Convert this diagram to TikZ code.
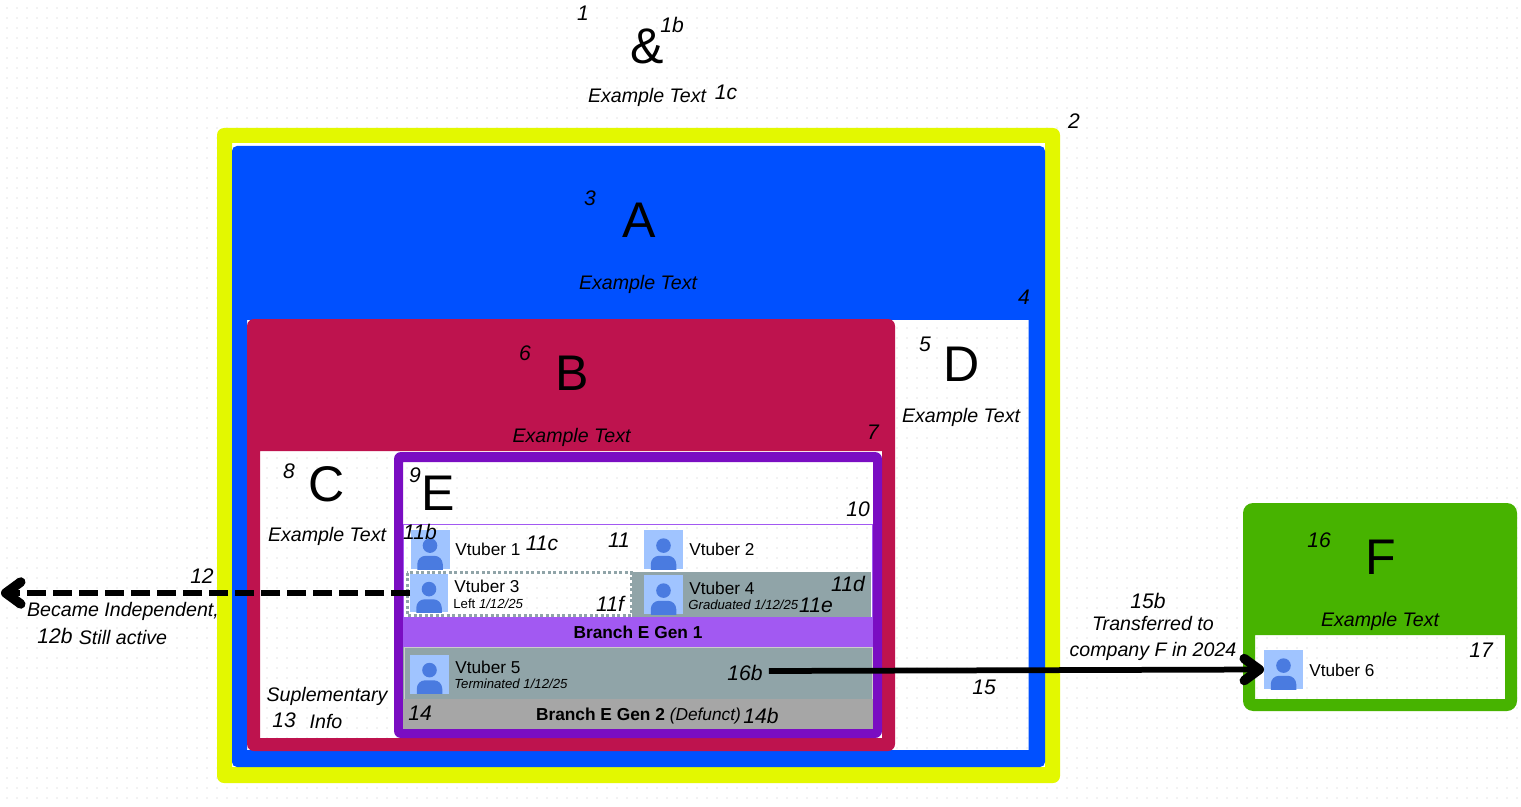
\documentclass[tikz,border=0pt]{standalone}
\usepackage{xcolor}
\usepackage{fontspec}
\setmainfont{Liberation Sans}
\usepackage{tikz}
\usetikzlibrary{arrows.meta}
\definecolor{frameyellow}{HTML}{E3F800}
\definecolor{frameblue}{HTML}{0050FF}
\definecolor{framecrimson}{HTML}{BE134E}
\definecolor{framepurple}{HTML}{7A0DC2}
\definecolor{bandpurple}{HTML}{A259F2}
\definecolor{framegreen}{HTML}{47B300}
\definecolor{rowgrey}{HTML}{90A4A8}
\definecolor{defunctgrey}{HTML}{A6A6A6}
\definecolor{avatarback}{HTML}{A0C4FF}
\definecolor{avatarfront}{HTML}{4A7BE0}
\tikzset{
  numlabel/.style={font=\fontsize{12}{14}\selectfont\itshape},
  bigletter/.style={font=\fontsize{28.5}{32}\selectfont},
  caption/.style={font=\fontsize{11.15}{13}\selectfont\itshape},
  vname/.style={anchor=west,inner sep=0pt,font=\fontsize{9.8}{12}\selectfont},
  vnote/.style={anchor=west,inner sep=0pt,font=\fontsize{7.5}{9}\selectfont},
  branchname/.style={font=\fontsize{9.85}{12}\selectfont},
  avatar/.style={rectangle,fill=avatarback,inner sep=0pt,outer sep=0pt,minimum size=0.78cm,
    path picture={
      \fill[avatarfront] (path picture bounding box.center) ++(0,0.078) circle (0.146);
      \fill[avatarfront,rounded corners=0.17cm] (path picture bounding box.center) ++(-0.255,-0.6)
        -- ++(0,0.475) -- ++(0.51,0) -- ++(0,-0.475) -- cycle;
    }},
  bigarrow/.style={line width=0.115cm,-{Straight Barb[length=0.3cm,width=0.44cm,round,line width=0.19cm]}}
}

\begin{document}
\begin{tikzpicture}[font=\small]
  \useasboundingbox (0,0) rectangle (30.42,-16.14);
  % dotted canvas
  \foreach \y in {0,...,80} {
    \draw[black!5,line width=0.03cm,dash pattern=on 0.04cm off 0.16cm] (-0.08,0.04-0.2*\y) -- (30.5,0.04-0.2*\y);
  }
  % nested frames
  \fill[frameyellow,even odd rule,rounded corners=0.14cm] (4.34,-2.56) rectangle (21.2,-15.66)
    [sharp corners] (4.64,-2.86) rectangle (20.9,-15.34);
  \fill[frameblue,even odd rule,rounded corners=0.1cm] (4.64,-2.92) rectangle (20.9,-15.34)
    [sharp corners] (4.94,-6.4) rectangle (20.57,-15);
  \fill[framecrimson,even odd rule,rounded corners=0.14cm] (4.94,-6.38) rectangle (17.9,-15.02)
    [sharp corners] (5.2,-9.02) rectangle (17.64,-14.76);
  \fill[framepurple,even odd rule,rounded corners=0.14cm] (7.88,-9.04) rectangle (17.64,-14.76)
    [sharp corners] (8.06,-9.24) rectangle (17.46,-14.58);
  \fill[framegreen,even odd rule,rounded corners=0.2cm] (24.86,-10.06) rectangle (30.34,-14.22)
    [sharp corners] (25.1,-12.7) rectangle (30.1,-13.98);
  % branch E rows
  \draw[bandpurple,line width=0.02cm] (8.07,-10.48) rectangle (17.45,-12.34);
  \fill[rowgrey] (12.64,-11.44) rectangle (17.42,-12.34);
  \draw[rowgrey,line width=0.06cm,dash pattern=on 0.06cm off 0.05cm] (8.14,-11.45) rectangle (12.62,-12.31);
  \fill[bandpurple] (8.06,-12.34) rectangle (17.46,-12.94);
  \fill[rowgrey] (8.06,-12.94) rectangle (17.46,-13.98);
  \draw[black!20,line width=0.02cm] (8.08,-12.95) rectangle (17.44,-13.98);
  \fill[defunctgrey] (8.06,-13.98) rectangle (17.46,-14.58);
  % vtubers
  \node[avatar] (av1) at (8.6,-10.99) {};
  \node[avatar] (av2) at (13.27,-10.99) {};
  \node[avatar,minimum size=0.76cm] (av3) at (8.58,-11.86) {};
  \node[avatar] (av4) at (13.27,-11.89) {};
  \node[avatar] (av5) at (8.59,-13.48) {};
  \node[avatar] (av6) at (25.67,-13.39) {};
  \node[vname] (name1) at (9.1,-10.98) {Vtuber 1};
  \node[vname] (name2) at (13.78,-10.98) {Vtuber 2};
  \node[vname] (name3) at (9.08,-11.72) {Vtuber 3};
  \node[vnote] (note3) at (9.06,-12.08) {Left \textit{1/12/25}};
  \node[vname] (name4) at (13.78,-11.76) {Vtuber 4};
  \node[vnote] (note4) at (13.76,-12.1) {\textit{Graduated 1/12/25}};
  \node[vname] (name5) at (9.1,-13.34) {Vtuber 5};
  \node[vnote] (note5) at (9.08,-13.68) {\textit{Terminated 1/12/25}};
  \node[vname] (name6) at (26.18,-13.4) {Vtuber 6};
  \node[branchname] (gen1) at (12.76,-12.64) {\textbf{Branch E Gen 1}};
  \node[branchname] (gen2) at (12.77,-14.32) {\textbf{Branch E Gen 2} \textit{(Defunct)}};
  % big letters and captions
  \node[bigletter] (amp) at (12.94,-0.92) {\&};
  \node[caption] (cap1) at (12.94,-1.95) {Example Text};
  \node[bigletter] (letterA) at (12.78,-4.4) {A};
  \node[caption] (capA) at (12.76,-5.68) {Example Text};
  \node[bigletter] (letterB) at (11.44,-7.46) {B};
  \node[caption] (capB) at (11.43,-8.74) {Example Text};
  \node[bigletter] (letterC) at (6.54,-9.68) {C};
  \node[caption] (capC) at (6.54,-10.72) {Example Text};
  \node[bigletter] (letterD) at (19.24,-7.28) {D};
  \node[caption] (capD) at (19.22,-8.34) {Example Text};
  \node[bigletter] (letterE) at (8.76,-9.86) {E};
  \node[bigletter] (letterF) at (27.62,-11.14) {F};
  \node[caption] (capF) at (27.6,-12.42) {Example Text};
  \node[caption] (supl) at (6.54,-13.92) {Suplementary};
  \node[caption] (info) at (6.52,-14.42) {Info};
  \node[caption] (indep) at (2.46,-12.22) {Became Independent,};
  \node[caption] (active) at (2.46,-12.74) {Still active};
  \node[caption] (moved1) at (23.06,-12.46) {Transferred to};
  \node[caption] (moved2) at (23.06,-13.02) {company F in 2024};
  % number labels
  \node[numlabel] (n1) at (11.66,-0.26) {1};
  \node[numlabel] (n1b) at (13.44,-0.5) {1b};
  \node[numlabel] (n1c) at (14.52,-1.84) {1c};
  \node[numlabel] (n2) at (21.48,-2.42) {2};
  \node[numlabel] (n3) at (11.8,-3.96) {3};
  \node[numlabel] (n4) at (20.48,-5.94) {4};
  \node[numlabel] (n5) at (18.5,-6.88) {5};
  \node[numlabel] (n6) at (10.5,-7.06) {6};
  \node[numlabel] (n7) at (17.46,-8.64) {7};
  \node[numlabel] (n8) at (5.78,-9.42) {8};
  \node[numlabel] (n9) at (8.3,-9.5) {9};
  \node[numlabel] (n10) at (17.16,-10.18) {10};
  \node[numlabel] (n11) at (12.38,-10.8) {11};
  \node[numlabel] (n11b) at (8.4,-10.64) {11b};
  \node[numlabel] (n11c) at (10.84,-10.86) {11c};
  \node[numlabel] (n11d) at (16.96,-11.68) {11d};
  \node[numlabel] (n11e) at (16.32,-12.1) {11e};
  \node[numlabel] (n11f) at (12.2,-12.08) {11f};
  \node[numlabel] (n12) at (4.04,-11.52) {12};
  \node[numlabel] (n12b) at (1.1,-12.72) {12b};
  \node[numlabel] (n13) at (5.68,-14.4) {13};
  \node[numlabel] (n14) at (8.4,-14.26) {14};
  \node[numlabel] (n14b) at (15.22,-14.32) {14b};
  \node[numlabel] (n15) at (19.68,-13.74) {15};
  \node[numlabel] (n15b) at (22.96,-12.02) {15b};
  \node[numlabel] (n16) at (26.38,-10.8) {16};
  \node[numlabel] (n16b) at (14.9,-13.46) {16b};
  \node[numlabel] (n17) at (29.62,-13) {17};
  % connectors
  \coordinate (exitleft) at (0.02,-11.86);
  \draw[bigarrow,dash pattern=on 0.38cm off 0.14cm] (av3.west) -- (exitleft);
  \draw[bigarrow] ([yshift=0.04cm]n16b.east) -- (av6.west);
\end{tikzpicture}
\end{document}
